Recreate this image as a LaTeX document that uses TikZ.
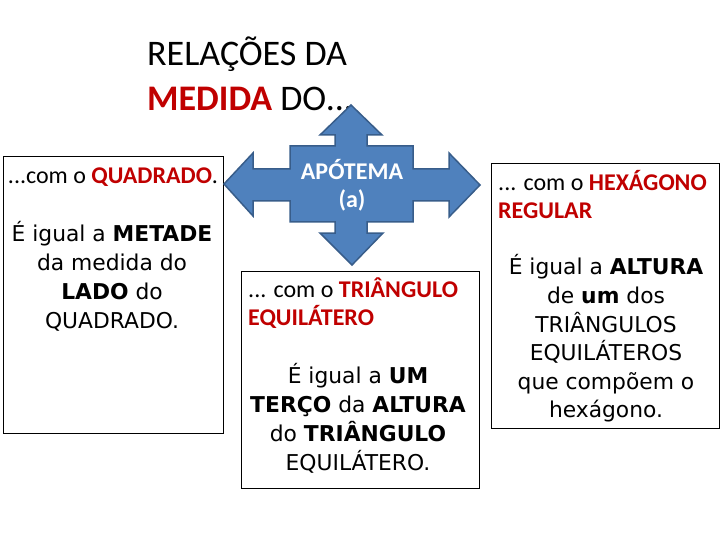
\documentclass[tikz,border=0pt]{standalone}
\usepackage{fontspec}
\setmainfont{Carlito}
\newfontfamily\comic{DejaVu Sans}
\definecolor{dred}{HTML}{C00000}
\definecolor{arrfill}{HTML}{4F81BD}
\definecolor{arrdraw}{HTML}{385D8A}
\tikzset{
  panel/.style={draw=black, line width=0.8pt, fill=white, inner sep=0pt},
  head/.style={font=\fontsize{24}{28}\selectfont, inner sep=0pt, align=left},
  body/.style={font=\comic\fontsize{21.8}{29}\selectfont, inner sep=0pt, align=center},
  titletext/.style={font=\fontsize{36}{45}\selectfont, inner sep=0pt, align=left}
}
\begin{document}
\begin{tikzpicture}[x=1pt,y=-1pt]
\useasboundingbox (0,0) rectangle (720,540);
% title
\node[titletext, anchor=west] (title) at (147,74) {RELAÇÕES DA\\\textcolor{dred}{\textbf{MEDIDA}} DO...};
% panels
\node[panel, minimum width=220pt, minimum height=277pt] (lbox) at (113,294.5) {};
\node[panel, minimum width=238pt, minimum height=217pt] (mbox) at (360,379.5) {};
\node[panel, minimum width=228pt, minimum height=265pt] (rbox) at (605,295.5) {};
% quad arrow
\draw[fill=arrfill, draw=arrdraw, line width=1.5pt, line join=miter]
 (351,105) -- (382,135) -- (367,135) -- (367,146) -- (413,146) -- (413,169) -- (449,169) -- (449,153)
 -- (480,185) -- (449,217) -- (449,201) -- (413,201) -- (413,222) -- (367,222) -- (367,233) -- (383,233)
 -- (352,265) -- (320,233) -- (335,233) -- (335,222) -- (290,222) -- (290,201) -- (253,201) -- (253,216)
 -- (224,184) -- (253,153) -- (253,169) -- (290,169) -- (290,146) -- (335,146) -- (335,135) -- (320,135) -- cycle;
\node[font=\bfseries\fontsize{24}{28}\selectfont, text=white, align=center, inner sep=0pt] (apo) at (352,185) {APÓTEMA\\(a)};
% left panel text
\node[head, anchor=center] (lhead) at (113,177) {...com o \textcolor{dred}{\textbf{QUADRADO}}.};
\node[body] (lbody) at (112,276) {É igual a \textbf{METADE}\\da medida do\\\textbf{LADO} do\\QUADRADO.};
% middle panel text
\node[head, anchor=west] (mhead) at (248,303) {... com o \textcolor{dred}{\textbf{TRIÂNGULO}}\\\textcolor{dred}{\textbf{EQUILÁTERO}}};
\node[body] (mbody) at (358,418) {É igual a \textbf{UM}\\\textbf{TERÇO} da \textbf{ALTURA}\\do \textbf{TRIÂNGULO}\\EQUILÁTERO.};
% right panel text
\node[head, anchor=west] (rhead) at (498,195) {... com o \textcolor{dred}{\textbf{HEXÁGONO}}\\\textcolor{dred}{\textbf{REGULAR}}};
\node[body, font=\comic\fontsize{21.8}{28.6}\selectfont] (rbody) at (606,338.5) {É igual a \textbf{ALTURA}\\de \textbf{um} dos\\TRIÂNGULOS\\EQUILÁTEROS\\que compõem o\\hexágono.};
\end{tikzpicture}
\end{document}
